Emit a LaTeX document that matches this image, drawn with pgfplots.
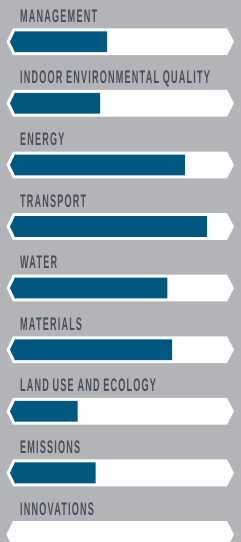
\documentclass[border=0pt]{standalone}
\usepackage{pgfplots}
\pgfplotsset{compat=1.18}
\usepackage{pgfplotstable}
\usepackage{graphicx}
\usepackage{fontspec}
\setmainfont{Liberation Sans}
\definecolor{bggray}{RGB}{179,180,184}
\definecolor{barblue}{RGB}{0,88,128}
\definecolor{labgray}{RGB}{74,78,90}
\newcommand\lab[1]{\scalebox{0.5}[1]{\fontsize{18.2}{18.2}\selectfont\bfseries\addfontfeature{LetterSpace=13}#1}}
\tikzset{labnode/.style={anchor=base west, inner sep=0pt, text=labgray, yshift=19.4pt}}
\pgfplotstableread{
idx value
0 43.2
1 40.0
2 79.8
3 90.1
4 71.5
5 73.8
6 29.4
7 37.9
8 0
}\data
\begin{document}
\begin{tikzpicture}
\begin{axis}[
  width=241pt, height=542pt, scale only axis,
  xmin=-7.042, xmax=106.103,
  ymin=-0.677, ymax=8.122, y dir=reverse,
  axis lines=none, ticks=none,
  axis background/.style={fill=bggray},
  clip=true,
]
\pgfplotsinvokeforeach{0,...,8}{
  \fill[white] (axis cs:-3.99,#1) -- (axis cs:-0.94,#1-0.2175) -- (axis cs:99.53,#1-0.2175) -- (axis cs:102.82,#1) -- (axis cs:99.53,#1+0.2175) -- (axis cs:-0.94,#1+0.2175) -- cycle;
}
\pgfplotsinvokeforeach{0,...,7}{
  \fill[barblue] (axis cs:-2.35,#1) -- (axis cs:0,#1-0.169) -- (axis cs:0.3,#1-0.169) -- (axis cs:0.3,#1+0.169) -- (axis cs:0,#1+0.169) -- cycle;
}
\addplot[xbar, fill=barblue, draw=none, bar width=20.8pt, bar shift=0pt, restrict x to domain=0.001:1000] table[x=value, y=idx] {\data};
\node[labnode] at (axis cs:2.35,0) {\lab{MANAGEMENT}};
\node[labnode] at (axis cs:2.35,1) {\lab{INDOOR ENVIRONMENTAL QUALITY}};
\node[labnode] at (axis cs:2.35,2) {\lab{ENERGY}};
\node[labnode] at (axis cs:2.35,3) {\lab{TRANSPORT}};
\node[labnode] at (axis cs:2.35,4) {\lab{WATER}};
\node[labnode] at (axis cs:2.35,5) {\lab{MATERIALS}};
\node[labnode] at (axis cs:2.35,6) {\lab{LAND USE AND ECOLOGY}};
\node[labnode] at (axis cs:2.35,7) {\lab{EMISSIONS}};
\node[labnode] at (axis cs:2.35,8) {\lab{INNOVATIONS}};
\end{axis}
\end{tikzpicture}
\end{document}
